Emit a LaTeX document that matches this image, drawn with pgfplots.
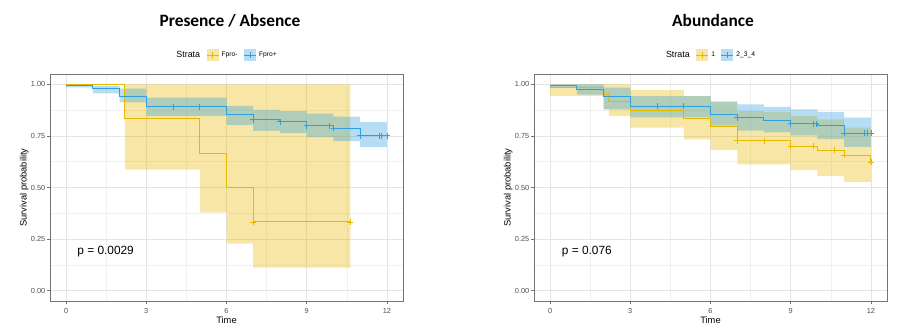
\documentclass[border=0pt]{standalone}
\usepackage{fontspec}
\setmainfont{Liberation Sans}
\newfontfamily\titlefont{Carlito}
\usepackage{pgfplots}
\pgfplotsset{compat=1.18}
\usepgfplotslibrary{fillbetween}
\definecolor{cy}{HTML}{E7B800}
\definecolor{cb}{HTML}{2E9FDF}
\definecolor{tk}{HTML}{4D4D4D}
\pgfplotsset{
 km/.style={
  scale only axis, width=264.75pt, height=170.25pt,
  xmin=-0.6, xmax=12.6, ymin=-0.05, ymax=1.05,
  xtick={0,3,6,9,12}, ytick={0,0.25,0.5,0.75,1},
  yticklabels={0.00,0.25,0.50,0.75,1.00},
  minor xtick={1.5,4.5,7.5,10.5}, minor ytick={0.125,0.375,0.625,0.875},
  xtick pos=lower, ytick pos=left,
  grid=both,
  major grid style={black!10, line width=0.45pt},
  minor grid style={black!6, line width=0.3pt},
  axis line style={black!55, line width=0.7pt},
  tick style={black!55, line width=0.5pt}, tick align=outside,
  major tick length=2.2pt, minor tick length=0pt,
  ticklabel style={font=\fontsize{5.5}{6}\selectfont, text=tk},
  yticklabel style={inner xsep=1.2pt},
  /pgf/number format/assume math mode=true,
  xlabel={Time}, ylabel={Survival probability},
  label style={font=\fontsize{7}{8}\selectfont},
  xlabel style={yshift=5pt},
  ylabel style={yshift=-3pt},
  legend style={at={(0.5,1)}, anchor=south, yshift=9pt, draw=none, fill=none,
    inner sep=0pt, font=\fontsize{5}{6}\selectfont,
    /tikz/every even column/.append style={column sep=2.5pt}},
  legend columns=-1,
 },
 ykey/.style={legend image code/.code={
   \fill[cy!35, draw=none] (0pt,-4.5pt) rectangle (9pt,4.5pt);
   \draw[cy, line width=0.6pt] (0pt,0pt) -- (9pt,0pt);
   \draw[cy, line width=0.6pt] (4.5pt,-2pt) -- (4.5pt,2pt);}},
 bkey/.style={legend image code/.code={
   \fill[cb!35, draw=none] (0pt,-4.5pt) rectangle (9pt,4.5pt);
   \draw[cb, line width=0.6pt] (0pt,0pt) -- (9pt,0pt);
   \draw[cb, line width=0.6pt] (4.5pt,-2pt) -- (4.5pt,2pt);}},
 kmline/.style={const plot, line width=0.75pt, mark=none},
 cens/.style={only marks, mark=+, mark size=2.2pt, mark options={line width=0.6pt}},
 bandpath/.style={const plot, draw=none, mark=none},
}
\begin{document}
\begin{tikzpicture}
\node[font=\titlefont\bfseries\fontsize{13}{15}\selectfont] at (172.5pt,235pt) {Presence / Absence};
\node[font=\titlefont\bfseries\fontsize{13}{15}\selectfont] at (534.75pt,235pt) {Abundance};

% ---------- left panel ----------
\begin{axis}[km, at={(37.5pt,24.75pt)}, anchor=south west]
\addlegendimage{empty legend}\addlegendentry{\fontsize{6.7}{8}\selectfont Strata}
\addlegendimage{ykey}\addlegendentry{Fpro-}
\addlegendimage{bkey}\addlegendentry{Fpro+}
% yellow band (Fpro-)
\addplot[bandpath, name path=lyu, forget plot] coordinates {(0,1) (2.2,1) (5,1) (6,1) (7,1) (10.63,1)};
\addplot[bandpath, name path=lyl, forget plot] coordinates {(0,1) (2.2,0.586) (5,0.38) (6,0.228) (7,0.112) (10.63,0.112)};
\addplot[cy, fill opacity=0.35, draw=none, forget plot] fill between[of=lyu and lyl];
% blue band (Fpro+)
\addplot[bandpath, name path=lbu, forget plot] coordinates {(0,1) (1,0.993) (2,0.979) (3,0.936) (6,0.895) (7,0.876) (8,0.87) (9,0.858) (10,0.843) (11,0.817) (12,0.817)};
\addplot[bandpath, name path=lbl, forget plot] coordinates {(0,0.985) (1,0.956) (2,0.913) (3,0.846) (6,0.803) (7,0.774) (8,0.765) (9,0.744) (10,0.725) (11,0.696) (12,0.696)};
\addplot[cb, fill opacity=0.35, draw=none, forget plot] fill between[of=lbu and lbl];
% curves
\addplot[kmline, cy, forget plot] coordinates {(0,1) (2.2,0.836) (5,0.667) (6,0.5) (7,0.333) (10.63,0.333)};
\addplot[kmline, cb, forget plot] coordinates {(0,0.995) (1,0.979) (2,0.943) (3,0.892) (6,0.854) (7,0.828) (8,0.818) (9,0.799) (10,0.786) (11,0.751) (12,0.751)};
\addplot[cens, cy, forget plot] coordinates {(7,0.333) (10.63,0.333)};
\addplot[cens, cb, forget plot] coordinates {(4,0.892) (5,0.892) (7,0.828) (8,0.818) (9,0.799) (9.85,0.799) (10,0.786) (11,0.751) (11.72,0.751) (11.8,0.751) (12,0.751)};
\node[anchor=west, font=\fontsize{8.9}{10}\selectfont] at (axis cs:0.25,0.19) {p = 0.0029};
\end{axis}

% ---------- right panel ----------
\begin{axis}[km, at={(400.5pt,24.75pt)}, anchor=south west]
\addlegendimage{empty legend}\addlegendentry{\fontsize{6.7}{8}\selectfont Strata}
\addlegendimage{ykey}\addlegendentry{1}
\addlegendimage{bkey}\addlegendentry{2\_3\_4}
% yellow band (1)
\addplot[bandpath, name path=ryu, forget plot] coordinates {(0,1) (2,1) (2.2,1) (3,0.972) (5,0.943) (6,0.916) (7,0.87) (8,0.865) (9,0.846) (10,0.83) (11,0.79) (12,0.79)};
\addplot[bandpath, name path=ryl, forget plot] coordinates {(0,0.943) (2,0.879) (2.2,0.846) (3,0.79) (5,0.733) (6,0.681) (7,0.612) (9,0.584) (10,0.555) (11,0.527) (12,0.527)};
\addplot[cy, fill opacity=0.35, draw=none, forget plot] fill between[of=ryu and ryl];
% blue band (2_3_4)
\addplot[bandpath, name path=rbu, forget plot] coordinates {(0,1) (1,1) (2,0.984) (3,0.943) (6,0.916) (7,0.903) (8,0.891) (9,0.879) (10,0.867) (11,0.838) (12,0.838)};
\addplot[bandpath, name path=rbl, forget plot] coordinates {(0,0.985) (1,0.95) (2,0.879) (3,0.84) (6,0.8) (7,0.775) (8,0.767) (9,0.752) (10,0.734) (11,0.697) (12,0.697)};
\addplot[cb, fill opacity=0.35, draw=none, forget plot] fill between[of=rbu and rbl];
% curves
\addplot[kmline, cy, forget plot] coordinates {(0,0.984) (2,0.95) (2.2,0.919) (3,0.875) (5,0.835) (6,0.794) (7,0.727) (9,0.70) (10,0.681) (11,0.655) (12,0.623)};
\addplot[kmline, cb, forget plot] coordinates {(0,0.995) (1,0.976) (2,0.94) (3,0.893) (6,0.854) (7,0.838) (8,0.825) (9,0.809) (10,0.798) (11,0.762) (12,0.762)};
\addplot[cens, cy, forget plot] coordinates {(7,0.727) (8,0.727) (9,0.70) (9.86,0.70) (10.63,0.681) (11,0.655) (12,0.623)};
\addplot[cens, cb, forget plot] coordinates {(4,0.893) (5,0.893) (7,0.838) (9,0.809) (9.85,0.809) (9.95,0.809) (11,0.762) (11.75,0.762) (11.85,0.762) (12,0.762)};
\node[anchor=west, font=\fontsize{8.9}{10}\selectfont] at (axis cs:0.27,0.19) {p = 0.076};
\end{axis}
\path (0,0) rectangle (684.75pt,250.5pt);
\end{tikzpicture}
\end{document}
